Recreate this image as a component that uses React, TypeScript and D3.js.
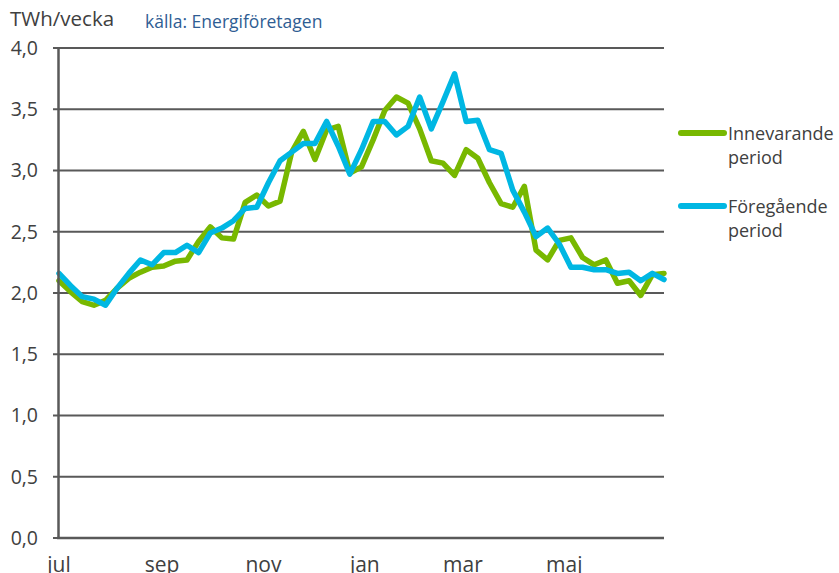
import React from "react";
import * as d3 from "d3";

const innevarande: number[] = [
  2.1, 2.01, 1.93, 1.9, 1.94, 2.04, 2.12, 2.17, 2.21, 2.22, 2.26, 2.27, 2.42, 2.54,
  2.45, 2.44, 2.74, 2.8, 2.71, 2.75, 3.15, 3.32, 3.09, 3.33, 3.36, 2.98, 3.03,
  3.25, 3.49, 3.6, 3.55, 3.34, 3.08, 3.06, 2.96, 3.17, 3.1, 2.9, 2.73, 2.7, 2.87,
  2.35, 2.27, 2.43, 2.45, 2.29, 2.23, 2.27, 2.08, 2.1, 1.98, 2.15, 2.16,
];
const foregaende: number[] = [
  2.16, 2.06, 1.97, 1.95, 1.9, 2.04, 2.16, 2.27, 2.23, 2.33, 2.33, 2.39, 2.33, 2.49,
  2.53, 2.59, 2.69, 2.7, 2.9, 3.08, 3.15, 3.22, 3.22, 3.4, 3.2, 2.97, 3.17,
  3.4, 3.4, 3.29, 3.36, 3.6, 3.34, 3.56, 3.79, 3.4, 3.41, 3.17, 3.14, 2.84, 2.66,
  2.46, 2.53, 2.4, 2.21, 2.21, 2.19, 2.19, 2.16, 2.17, 2.1, 2.16, 2.11,
];
const monthLabels: string[] = ["jul", "sep", "nov", "jan", "mar", "maj"];
const monthDayOffsets: number[] = [0, 62, 123, 184, 243, 304];
const yTicks: number[] = [0, 0.5, 1, 1.5, 2, 2.5, 3, 3.5, 4];
const seriesNames: string[] = ["Innevarande period", "Föregående period"];

const GREEN = "#78B800";
const BLUE = "#00B7E3";
const GRID = "#595959";
const TEXT = "#404040";
const FONT = "'Open Sans', Lato, sans-serif";

export default function App() {
  const x = d3.scaleLinear().domain([0, innevarande.length - 1]).range([59, 664]);
  const y = d3.scaleLinear().domain([0, 4]).range([538, 48]);
  const line = d3
    .line<number>()
    .x((_, i) => x(i))
    .y((d) => y(d));

  const series = [
    { values: innevarande, color: GREEN },
    { values: foregaende, color: BLUE },
  ];

  return (
    <svg
      width={839}
      height={573}
      style={{ position: "absolute", left: 0, top: 0, background: "#fff" }}
      fontFamily={FONT}
    >
      <text x={10} y={26} fontSize={20.5} fill={TEXT}>
        TWh/vecka
      </text>
      <text x={145} y={28} fontSize={17.5} fill="#2F5D93">
        källa: Energiföretagen
      </text>

      {yTicks.map((t) => (
        <g key={t}>
          {t > 0 && (
            <line x1={58} x2={664} y1={y(t)} y2={y(t)} stroke={GRID} strokeWidth={2} />
          )}
          <line x1={53} x2={58} y1={y(t)} y2={y(t)} stroke={GRID} strokeWidth={2} />
          <text
            x={38}
            y={y(t)}
            dy="0.35em"
            textAnchor="end"
            fontSize={19.5}
            fill={TEXT}
          >
            {t.toFixed(1).replace(".", ",")}
          </text>
        </g>
      ))}

      {series.map((s, i) => (
        <path
          key={i}
          d={line(s.values) || ""}
          fill="none"
          stroke={s.color}
          strokeWidth={5.5}
          strokeLinejoin="round"
          strokeLinecap="round"
        />
      ))}

      <line x1={58.5} x2={58.5} y1={47} y2={539} stroke={GRID} strokeWidth={2.5} />
      <line x1={57} x2={664} y1={538} y2={538} stroke={GRID} strokeWidth={2.5} />

      {monthLabels.map((m, i) => (
        <text
          key={m}
          x={x(monthDayOffsets[i] / 7)}
          y={572}
          textAnchor="middle"
          fontSize={21}
          fill={TEXT}
        >
          {m}
        </text>
      ))}

      {series.map((s, i) => {
        const ly = 133 + i * 73;
        const [w1, w2] = seriesNames[i].split(" ");
        return (
          <g key={i}>
            <line
              x1={681}
              x2={724}
              y1={ly}
              y2={ly}
              stroke={s.color}
              strokeWidth={6}
              strokeLinecap="round"
            />
            <text x={728} y={ly + 7} fontSize={18} fill={TEXT}>
              {w1}
            </text>
            <text x={728} y={ly + 31} fontSize={18} fill={TEXT}>
              {w2}
            </text>
          </g>
        );
      })}
    </svg>
  );
}
